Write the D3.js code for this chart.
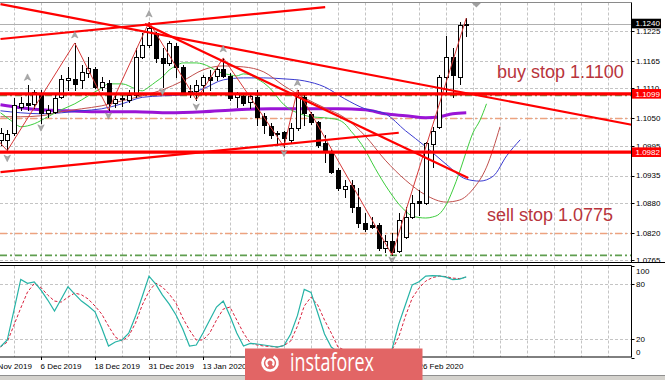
<!DOCTYPE html>
<html><head><meta charset="utf-8">
<script src="https://cdn.jsdelivr.net/npm/d3@7"></script>
<style>html,body{margin:0;padding:0;background:#fff;overflow:hidden}svg{display:block}</style>
</head><body><svg id="c" width="665" height="380"></svg>
<script>
// ---------- DATA (EUR/USD daily) ----------
const opens = [1.1006,1.1006,1.1021,1.1073,1.1081,1.1079,1.1101,1.1061,1.1063,1.1093,
1.1127,1.1129,1.1127,1.1141,1.1149,1.1113,1.1121,1.1081,1.1091,1.1087,
1.1097,1.1173,1.1197,1.1221,1.1171,1.1161,1.1195,1.1153,1.1105,1.1105,
1.1117,1.1133,1.1135,1.1149,1.1135,1.1093,1.1095,1.1083,1.1093,1.1055,
1.1035,1.1019,1.1023,1.1007,1.1031,1.1093,1.1059,1.1043,1.1001,1.0983,
1.0946,1.0908,1.0916,1.0872,1.0840,1.0836,1.0836,1.0790,1.0804,1.0784,
1.0812,1.0852,1.0884,1.0880,1.0999,1.1033,1.1133,1.1173,1.1133,1.1238];
const highs = [1.1030,1.1027,1.1091,1.1093,1.1117,1.1107,1.1107,1.1077,1.1097,1.1137,
1.1153,1.1201,1.1157,1.1173,1.1153,1.1133,1.1127,1.1097,1.1101,1.1107,
1.1191,1.1221,1.1243,1.1223,1.1191,1.1205,1.1201,1.1157,1.1117,1.1127,
1.1137,1.1147,1.1153,1.1171,1.1141,1.1103,1.1101,1.1101,1.1107,1.1061,
1.1041,1.1025,1.1025,1.1041,1.1107,1.1097,1.1063,1.1045,1.1017,1.0987,
1.0950,1.0926,1.0926,1.0910,1.0860,1.0852,1.0840,1.0816,1.0820,1.0860,
1.0872,1.0896,1.0906,1.1002,1.1033,1.1137,1.1215,1.1191,1.1243,1.1251];
const lows = [1.0997,1.0985,1.1017,1.1067,1.1067,1.1071,1.1041,1.1053,1.1061,1.1091,
1.1107,1.1107,1.1111,1.1133,1.1111,1.1107,1.1067,1.1073,1.1075,1.1083,
1.1093,1.1171,1.1193,1.1163,1.1113,1.1157,1.1133,1.1101,1.1093,1.1087,
1.1101,1.1107,1.1127,1.1133,1.1087,1.1073,1.1077,1.1071,1.1037,1.1021,
1.1011,1.0997,1.0993,1.1003,1.1027,1.1037,1.1039,1.0993,1.0962,1.0940,
1.0906,1.0892,1.0862,1.0832,1.0824,1.0830,1.0786,1.0782,1.0776,1.0782,
1.0810,1.0850,1.0856,1.0878,1.0952,1.1031,1.1101,1.1093,1.1119,1.1215];
const closes = [1.1020,1.1019,1.1077,1.1081,1.1077,1.1103,1.1061,1.1067,1.1091,1.1129,
1.1131,1.1119,1.1143,1.1151,1.1113,1.1123,1.1081,1.1089,1.1089,1.1097,
1.1173,1.1197,1.1231,1.1171,1.1161,1.1201,1.1153,1.1103,1.1099,1.1117,
1.1133,1.1127,1.1149,1.1135,1.1091,1.1099,1.1081,1.1095,1.1053,1.1037,
1.1017,1.1021,1.1011,1.1031,1.1093,1.1061,1.1043,1.0997,1.0983,1.0942,
1.0910,1.0914,1.0872,1.0840,1.0828,1.0832,1.0790,1.0804,1.0782,1.0846,
1.0852,1.0880,1.0880,1.1000,1.1025,1.1133,1.1173,1.1137,1.1237,1.1240];

// Alligator (shifted forward past the last bar)
const jawIdx   = [0,3,6,9,12,15,18,21,24,27,30,33,36,39,42,45,48,51,54,57,60,63,66,69,71,73,75,77];
const jawVal   = [1.1065,1.1061,1.1059,1.1061,1.1065,1.1069,1.1079,1.1092,1.1095,1.1097,1.1109,1.1127,1.1131,1.1131,1.1129,1.1125,1.1113,1.1089,1.1069,1.1059,1.1025,1.0993,1.0958,1.0928,1.0924,1.0934,1.0975,1.1007];
const teethIdx = [0,3,6,9,12,15,18,21,24,27,30,33,36,39,42,45,48,51,54,57,60,63,66,68,70,72,74];
const teethVal = [1.1053,1.1053,1.1055,1.1063,1.1069,1.1075,1.1085,1.1095,1.1107,1.1125,1.1147,1.1155,1.1153,1.1143,1.1115,1.1091,1.1071,1.1051,1.1015,1.0966,1.0926,1.0896,1.0882,1.0886,1.0908,1.0952,1.1033];
const lipsIdx  = [0,1,2,3,5,7,9,11,13,15,16,18,20,21,22,23,24,25,26,27,29,31,32,34,35,36,37,38,39,40,42,43,44,46,48,50,51,52,53,54,55,56,57,58,59,60,61,63,64,65,66,67,68,69,70,71,72];
const lipsVal  = [1.1061,1.1051,1.1041,1.1033,1.1039,1.1053,1.1067,1.1079,1.1095,1.1111,1.1119,1.1119,1.1109,1.1105,1.1113,1.1123,1.1133,1.1147,1.1155,1.1161,1.1161,1.1153,1.1145,1.1137,1.1135,1.1139,1.1137,1.1129,1.1121,1.1109,1.1077,1.1067,1.1061,1.1053,1.1051,1.1047,1.1039,1.1023,1.1007,1.0987,1.0962,1.0938,1.0916,1.0896,1.0878,1.0864,1.0854,1.0850,1.0852,1.0858,1.0876,1.0906,1.0942,1.0983,1.1021,1.1045,1.1079];
// slow moving average (purple)
const maIdx = [0,3,6,10,15,20,25,30,35,40,45,50,54,57,60,63,65,67,69];
const maVal = [1.1077,1.1071,1.1067,1.1065,1.1063,1.1063,1.1061,1.1063,1.1067,1.1069,1.1069,1.1069,1.1067,1.1059,1.1055,1.1051,1.1053,1.1059,1.1061];

// ZigZag pivots
const zzIdx   = [-3,1,11,16,22,29,33,42,44,58,69];
const zzPrice = [1.1045,1.0985,1.1201,1.1067,1.1243,1.1087,1.1171,1.0993,1.1107,1.0776,1.1251];
// Fractal arrows
const upArrowIdx   = [4,11,22,33,44];
const upArrowPrice = [1.1132,1.1217,1.1259,1.1189,1.1121];
const dnArrowIdx   = [1,6,16,24,29,42,58];
const dnArrowPrice = [1.0970,1.1031,1.1055,1.1103,1.1073,1.0980,1.0766];

// Trend lines (bar index, price)
const trendFromIdx   = [0,0,21.4,0];
const trendFromPrice = [1.1209,1.1279,1.1239,1.0942];
const trendToIdx     = [48.1,93.5,69.3,59];
const trendToPrice   = [1.1273,1.1037,1.0930,1.1021];
// Horizontal levels
const redLevels    = [1.1099,1.0982];
const salmonLevels = [1.1050,1.0820];
const greenLevels  = [1.1096,1.0775];
const currentPrice = 1.1240;

// Axis ticks
const priceTicks = [1.1225,1.1165,1.1110,1.1050,1.0995,1.0935,1.0880,1.0820,1.0765];
const priceTagValues = [1.1240,1.1099,1.0982];
const priceTagLabels = ["1.1240","1.1099","1.0982"];
const priceTagColors = ["#000000","#ff0000","#ff0000"];
const dateIdx    = [-2,6,14,22,30,62];
const dateLabels = ["26 Nov 2019","6 Dec 2019","18 Dec 2019","31 Dec 2019","13 Jan 2020","26 Feb 2020"];
const stochTicks = [100,80,20,0];

// Stochastic
const stochK = [11.9,19.2,51.7,85.0,80.7,82.4,73.4,62.6,50.7,63.7,77.0,69.1,61.5,56.1,49.9,32.2,12.7,17.0,19.2,26.6,44.9,66.4,88.6,79.9,68.0,58.2,46.3,31.1,12.7,13.8,26.8,40.9,55.0,61.5,45.2,26.8,12.7,15.6,14.9,13.8,12.7,11.6,13.2,25.7,45.9,74.2,70.9,48.5,25.7,11.6,6,8,5,3,4,6,3,5,9,36.4,57.8,79.1,82.4,88.6,89.2,88.9,87.5,84.8,85.4,87.7];
const stochD = [11.6,17.0,35.5,53.9,71.3,80.5,76.1,68.0,61.5,60.4,65.8,70.2,68.3,63.7,56.1,47.4,34.4,22.5,18.1,23.5,37.6,57.2,72.3,81.0,76.6,69.1,59.3,43.1,30.0,19.2,19.2,26.8,40.9,52.8,55.0,40.9,26.8,15.9,13.8,12.7,12.1,11.6,13.2,18.1,34.4,56.1,65.8,57.2,40.9,26.8,11.6,8,6,5,4,4,5,4,8.4,22.5,45.2,64.8,75.6,83.2,87.0,88.6,88.1,86.4,85.9,87.5];

const buyText = "buy stop 1.1100";
const sellText = "sell stop 1.0775";

// ---------- DRAW ----------
const svg = d3.select('#c');
const R = 631.5, mainTop = 2.5, mainBot = 262.5, indTop = 265.5, indBot = 357;
const x = d3.scaleLinear().domain([0,69]).range([0.5,466.25]);
const y = d3.scaleLinear().domain([1.0765,1.1225]).range([260.4,31]);
const ys = d3.scaleLinear().domain([0,100]).range([357.7,265.6]);
const px = v => Math.round(v) + 0.5;
const FONT = "'Liberation Sans', Arial, sans-serif";

svg.append('rect').attr('width',665).attr('height',380).attr('fill','#fff');
const defs = svg.append('defs');
defs.append('clipPath').attr('id','mclip').append('rect').attr('x',0).attr('y',mainTop).attr('width',R).attr('height',mainBot-mainTop);
defs.append('clipPath').attr('id','iclip').append('rect').attr('x',0).attr('y',indTop).attr('width',R).attr('height',indBot-indTop);
defs.append('clipPath').attr('id','aclip').append('rect').attr('x',R).attr('y',0).attr('width',665-R).attr('height',mainBot);

const main = svg.append('g').attr('clip-path','url(#mclip)');
const ind = svg.append('g').attr('clip-path','url(#iclip)');

const gridIdx = d3.range(2, 94, 4);
const gridCol = '#c4c4c4';
// vertical grid
[main, ind].forEach(g => {
  g.selectAll('line.vg').data(gridIdx).enter().append('line')
    .attr('x1', d => px(x(d))).attr('x2', d => px(x(d)))
    .attr('y1', g === main ? mainTop : indTop).attr('y2', g === main ? mainBot : indBot)
    .attr('stroke', gridCol).attr('stroke-dasharray','3,2');
});
main.selectAll('line.hg').data(priceTicks).enter().append('line')
  .attr('x1',0).attr('x2',R).attr('y1', d => px(y(d))).attr('y2', d => px(y(d)))
  .attr('stroke', gridCol).attr('stroke-dasharray','3,2');
ind.selectAll('line.hg').data([80,20]).enter().append('line')
  .attr('x1',0).attr('x2',R).attr('y1', d => px(ys(d))).attr('y2', d => px(ys(d)))
  .attr('stroke', gridCol).attr('stroke-dasharray','3,2');

// current price line
main.append('line').attr('x1',0).attr('x2',R).attr('y1',px(y(currentPrice))).attr('y2',px(y(currentPrice)))
  .attr('stroke','#b0b0b0');

// dash-dot levels
main.selectAll('line.sal').data(salmonLevels).enter().append('line')
  .attr('x1',0).attr('x2',R).attr('y1', d => px(y(d))).attr('y2', d => px(y(d)))
  .attr('stroke','#eda27f').attr('stroke-width',1.3).attr('stroke-dasharray','7,3,2,3');
main.selectAll('line.grn').data(greenLevels).enter().append('line')
  .attr('x1',0).attr('x2',R).attr('y1', d => y(d)).attr('y2', d => y(d))
  .attr('stroke','#5f9e4f').attr('stroke-width',1.6).attr('stroke-dasharray','7,3,2,3');

// purple MA
const lineGen = (xs, vs, sc) => d3.line().curve(d3.curveMonotoneX).x((d,i)=>x(xs[i])).y((d,i)=>sc(vs[i]))(vs);
main.append('path').attr('d', lineGen(maIdx, maVal, y)).attr('fill','none').attr('stroke','#9a14d6').attr('stroke-width',3);
// Alligator
main.append('path').attr('d', lineGen(jawIdx, jawVal, y)).attr('fill','none').attr('stroke','#3a3ad0').attr('stroke-width',1);
main.append('path').attr('d', lineGen(teethIdx, teethVal, y)).attr('fill','none').attr('stroke','#c0504d').attr('stroke-width',1);
main.append('path').attr('d', lineGen(lipsIdx, lipsVal, y)).attr('fill','none').attr('stroke','#3ccc3c').attr('stroke-width',1);

// candles
const idx = d3.range(opens.length);
const cg = main.append('g');
idx.forEach(i => {
  const cx = px(x(i));
  cg.append('line').attr('x1',cx).attr('x2',cx).attr('y1',Math.round(y(highs[i]))).attr('y2',Math.round(y(lows[i]))+1).attr('stroke','#000');
  const up = closes[i] >= opens[i];
  const top = Math.round(y(Math.max(opens[i],closes[i])));
  const bot = Math.round(y(Math.min(opens[i],closes[i])));
  cg.append('rect').attr('x',cx-2).attr('y',top+0.5).attr('width',4).attr('height',Math.max(1,bot-top))
    .attr('fill', up ? '#fff' : '#000').attr('stroke','#000').attr('stroke-width',1);
});

// zigzag
main.append('path').attr('d', d3.line().x((d,i)=>x(zzIdx[i])).y((d,i)=>y(zzPrice[i]))(zzPrice))
  .attr('fill','none').attr('stroke','#d63a3a').attr('stroke-width',1);

// trend lines
trendFromIdx.forEach((d,i) => {
  main.append('line').attr('x1',x(trendFromIdx[i])).attr('y1',y(trendFromPrice[i]))
    .attr('x2',x(trendToIdx[i])).attr('y2',y(trendToPrice[i]))
    .attr('stroke','#ff0000').attr('stroke-width',2.2);
});
main.selectAll('line.red').data(redLevels).enter().append('line')
  .attr('x1',0).attr('x2',R).attr('y1', d => y(d)).attr('y2', d => y(d))
  .attr('stroke','#ff0000').attr('stroke-width',3.2);

// fractal arrows
const arrowUp = 'M0,-3.5 L3.2,3 L0,1.3 L-3.2,3 Z';
upArrowIdx.forEach((d,i) => main.append('path').attr('d',arrowUp)
  .attr('transform',`translate(${x(d)},${y(upArrowPrice[i])})`).attr('fill','#a9a9a9').attr('stroke','#8a8a8a').attr('stroke-width',0.5));
dnArrowIdx.forEach((d,i) => main.append('path').attr('d',arrowUp)
  .attr('transform',`translate(${x(d)},${y(dnArrowPrice[i])}) rotate(180)`).attr('fill','#a9a9a9').attr('stroke','#8a8a8a').attr('stroke-width',0.5));
// chart shift marker
const sx = x(70.5);
main.append('path').attr('d',`M${sx-5},${mainTop} L${sx+5},${mainTop} L${sx},${mainTop+5} Z`).attr('fill','#a0a0a0');

// annotations
main.append('text').attr('x',497).attr('y',78).text(buyText)
  .attr('font-family',FONT).attr('font-size',18).attr('fill','#b8343c');
main.append('text').attr('x',487).attr('y',221).text(sellText)
  .attr('font-family',FONT).attr('font-size',18).attr('fill','#b8343c');

// ---- stochastic ----
const sline = vs => d3.line().x((d,i)=>x(i)).y(d=>ys(d))(vs);
ind.append('path').attr('d', sline(stochD)).attr('fill','none').attr('stroke','#d8203c').attr('stroke-width',1).attr('stroke-dasharray','3,2');
ind.append('path').attr('d', sline(stochK)).attr('fill','none').attr('stroke','#26b3a6').attr('stroke-width',1.2);

// ---- frames ----
svg.append('line').attr('x1',0).attr('x2',R).attr('y1',mainTop).attr('y2',mainTop).attr('stroke','#8a8a8a');
svg.append('line').attr('x1',R).attr('x2',R).attr('y1',mainTop).attr('y2',mainBot).attr('stroke','#000');
svg.append('line').attr('x1',0).attr('x2',665).attr('y1',mainBot).attr('y2',mainBot).attr('stroke','#000');
svg.append('line').attr('x1',0).attr('x2',R).attr('y1',indTop).attr('y2',indTop).attr('stroke','#000');
svg.append('line').attr('x1',R).attr('x2',R).attr('y1',indTop).attr('y2',indBot).attr('stroke','#000');
svg.append('line').attr('x1',0).attr('x2',R+0.5).attr('y1',indBot).attr('y2',indBot).attr('stroke','#000');

// ---- price axis (clipped to the main window) ----
const ax = svg.append('g').attr('clip-path','url(#aclip)');
priceTicks.forEach(p => {
  const yy = y(p);
  ax.append('line').attr('x1',R).attr('x2',R+3).attr('y1',px(yy)).attr('y2',px(yy)).attr('stroke','#000');
  ax.append('text').attr('x',636).attr('y',yy).attr('dy','0.35em').text(p.toFixed(4))
    .attr('font-family',FONT).attr('font-size',8).attr('fill','#000');
});
priceTagValues.forEach((p,i) => {
  const yy = y(p);
  ax.append('rect').attr('x',R+0.5).attr('y',yy-4.8).attr('width',29).attr('height',9.6).attr('fill',priceTagColors[i]);
  ax.append('text').attr('x',635.5).attr('y',yy).attr('dy','0.35em').text(priceTagLabels[i])
    .attr('font-family',FONT).attr('font-size',8).attr('fill','#fff');
});

// ---- stochastic axis ----
const sax = svg.append('g');
stochTicks.forEach(v => {
  const yy = Math.min(352.5, Math.max(271, ys(v)));
  sax.append('line').attr('x1',R).attr('x2',R+3).attr('y1',px(ys(v))).attr('y2',px(ys(v))).attr('stroke','#000');
  sax.append('text').attr('x',636).attr('y',yy).attr('dy','0.35em').text(String(v))
    .attr('font-family',FONT).attr('font-size',8).attr('fill','#000');
});

// ---- time axis ----
dateIdx.forEach((d,i) => {
  const xx = x(d);
  svg.append('line').attr('x1',px(xx)).attr('x2',px(xx)).attr('y1',indBot).attr('y2',indBot+3).attr('stroke','#000');
  svg.append('text').attr('x',xx-0.5).attr('y',369).text(dateLabels[i])
    .attr('font-family',FONT).attr('font-size',8).attr('fill','#000');
});

// bottom strip
svg.append('rect').attr('x',0).attr('y',375).attr('width',665).attr('height',5).attr('fill','#d4d2cd');
svg.append('line').attr('x1',0).attr('x2',665).attr('y1',375.5).attr('y2',375.5).attr('stroke','#8f8f8f');

// watermark with logo
svg.append('rect').attr('x',245).attr('y',348.5).attr('width',177.5).attr('height',31.5).attr('fill','#e26565');
const logo = svg.append('g').attr('transform','translate(270,363)').attr('fill','none').attr('stroke','#fff').attr('stroke-linecap','round');
logo.append('path').attr('d', d3.arc()({innerRadius:7.5,outerRadius:7.5,startAngle:0.5,endAngle:5.6})).attr('stroke-width',2.6);
logo.append('path').attr('d', d3.arc()({innerRadius:3.6,outerRadius:3.6,startAngle:3.6,endAngle:8.6})).attr('stroke-width',2.2);
svg.append('text').attr('x',290).attr('y',371).text('instaforex')
  .attr('font-family',"'Open Sans', 'Liberation Sans', sans-serif").attr('font-size',25).attr('fill','#fff')
  .attr('textLength',84).attr('lengthAdjust','spacingAndGlyphs');
</script></body></html>
